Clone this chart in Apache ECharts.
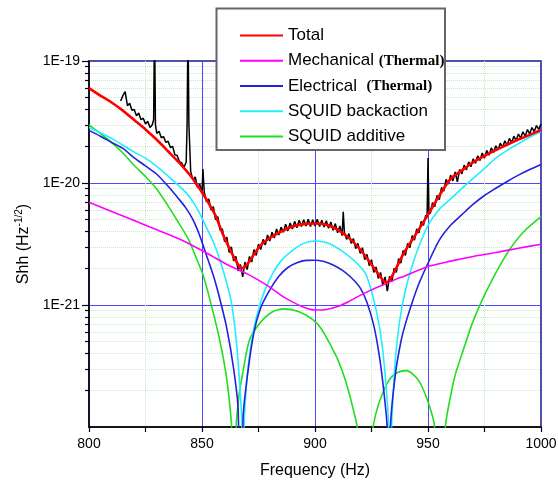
<!DOCTYPE html>
<html>
<head>
<meta charset="utf-8">
<script src="https://cdn.jsdelivr.net/npm/echarts@6/dist/echarts.min.js"></script>
<style>html,body{margin:0;padding:0;background:#fff}#c{width:558px;height:486px}</style>
</head>
<body>
<div id="c"></div>
<script>
// All amplitude values below are in units of 1e-21 Hz^-1/2
var UNIT = 1e-21;

var seriesNames = ['Total', 'Mechanical', 'Electrical', 'SQUID backaction', 'SQUID additive'];
var xTickLabels = ['800', '850', '900', '950', '1000'];
var yTickLabels = ['1E-22', '1E-21', '1E-20', '1E-19'];
var yMinorTicks = [2e-22,3e-22,4e-22,5e-22,6e-22,7e-22,8e-22,9e-22,
                   2e-21,3e-21,4e-21,5e-21,6e-21,7e-21,8e-21,9e-21,
                   2e-20,3e-20,4e-20,5e-20,6e-20,7e-20,8e-20,9e-20];

// measured spectrum (black): [frequency Hz, amplitude]
var measured = [
  [814,47],[815,52],[816,56],[817,43],[818,45],[819,39.5],[820,40],[821,35.5],[822,37.5],[823,33],[824,34],[825,30.5],[826,32],[827,28.5],[828,30],
  [828.6,33],[829,200],[829.4,30],
  [830,25.5],[831,26.5],[832,23.5],[833,24],[834,21.5],[835,22],[836,19.5],[837,20],[838,17],[839,16.8],[840,15],[841,14.6],[842,13.5],[843,14.8],
  [843.4,30],[843.8,200],[844.2,30],
  [845,12.4],[846,10.6],[847,11.2],[848,9.2],[849,9.8],[850,8.2],[850.4,13],[851,8.4],[852,7.0],[853,7.4],[854,6.0],[855,6.4],[856,5.0],[857,5.3],[858,4.1],[859,4.2],
  [860,3.3],[861,3.6],[862,2.7],[863,3.0],[864,2.3],[865,2.5],[866,1.9],[867,2.15],[868,1.7],[869,2.25],[870,1.95],[871,2.5],[872,2.25],[873,2.85],[874,2.55],[875,3.15],
  [876,2.85],[877,3.45],[878,3.1],[879,3.75],[880,3.35],[881,3.95],[882,3.55],[883,4.2],[884,3.75],[885,4.35],[886,3.95],[887,4.6],[888,4.05],[889,4.7],[890,4.2],
  [891,4.85],[892,4.3],[893,4.95],[894,4.4],[895,5.0],[896,4.45],[897,5.05],[898,4.4],[899,5.0],[900,4.45],[901,5.05],[902,4.4],[903,4.95],[904,4.35],[905,4.9],
  [906,4.25],[907,4.8],[908,4.1],[909,4.65],[910,3.9],[911,4.45],[912,3.7],[912.5,5.8],[913,3.95],[914,3.45],[915,3.85],[916,3.2],[917,3.5],[918,2.9],[919,3.2],
  [920,2.65],[921,2.95],[922,2.35],[923,2.6],[924,2.1],[925,2.35],[926,1.85],[927,2.05],[928,1.65],[929,1.85],[930,1.45],[931,1.7],[932,1.3],[933,1.72],[934,1.55],
  [935,2.0],[936,1.85],[937,2.4],[938,2.2],[939,2.8],[940,2.55],[941,3.2],[942,2.95],[943,3.7],[944,3.4],[945,4.2],[946,3.9],[947,4.85],[948,4.5],[949,5.45],
  [949.6,5.2],[950,16],[950.4,6.0],
  [951,5.6],[952,6.9],[953,6.4],[954,7.9],[955,7.3],[956,9.2],[957,8.6],[958,10.7],[959,9.8],[960,11.6],[961,10.4],[962,12.3],[963,10.2],[964,12.9],[965,11.9],
  [966,14.0],[967,12.8],[968,14.9],[969,13.6],[970,15.8],[971,14.5],[972,16.7],[973,15.3],[974,17.6],[975,16.0],[976,18.5],[977,16.9],[978,19.4],[979,17.8],[980,20.2],
  [981,18.7],[982,21.2],[983,19.5],[984,22.2],[985,20.4],[986,23.2],[987,21.4],[988,24.2],[989,22.3],[990,25.2],[991,23.3],[992,26.3],[993,24.2],[994,27.4],[995,25.3],
  [996,28.5],[997,26.4],[998,29.6],[999,27.5],[1000,30.5]
];

// Total (red)
var totalFreq = [800,805,810,815,820,825,830,835,840,845,848,850,853,856,859,862,865,867.5,870,873,876,880,885,890,895,900,905,910,915,920,925,928,930,931.5,933,935,937.5,940,945,950,955,960,965,970,975,980,985,990,995,1000];
var totalVal = [60,52.1,45.7,39.2,32.8,27.5,22.6,18.2,14.6,11.4,9.5,8.4,6.8,5.4,3.9,2.95,2.3,2.0,2.15,2.6,3.1,3.55,4.0,4.4,4.6,4.65,4.55,4.15,3.55,2.85,2.15,1.8,1.6,1.53,1.6,1.85,2.3,2.8,3.9,5.5,7.9,10.8,12.7,14.8,16.7,18.6,20.6,22.7,24.8,27.2];

// Mechanical (Thermal) (magenta)
var mechFreq = [800,810,820,830,840,850,855,860,865,870,875,880,885,890,895,900,905,910,915,920,925,930,935,940,950,960,970,980,990,1000];
var mechVal = [6.95,5.85,4.92,4.14,3.48,2.8,2.48,2.2,1.98,1.8,1.6,1.4,1.2,1.06,0.96,0.91,0.92,0.97,1.07,1.2,1.33,1.46,1.6,1.74,2.07,2.29,2.5,2.69,2.92,3.15];

// Electrical (Thermal) (blue)
var elecFreq = [800,805,810,815,820,825,830,835,840,843,846,849,852,855,858,861,864,866,867.3,868.2,870.2,873,876,880,884,888,892,896,900,904,908,912,916,920,923,926,928.5,930.4,931.9,932.7,933.4,935.6,938,940,943,946,950,955,960,965,970,975,980,985,990,995,1000];
var elecVal = [27,24.2,21.5,19.2,16.1,13.8,11.8,9.4,7.3,6.2,5.0,3.7,2.55,1.75,1.1,0.64,0.3,0.14,0.003,0.12,0.274,0.6,0.95,1.33,1.72,2.03,2.22,2.32,2.33,2.27,2.13,1.93,1.68,1.38,1.05,0.68,0.38,0.2,0.1,0.003,0.1,0.274,0.5,0.7,1.05,1.5,2.2,3.4,4.5,5.5,6.7,7.9,9.05,10.3,11.6,12.9,14.2];

// SQUID backaction (cyan)
var backFreq = [800,805,810,815,820,825,830,835,840,843,846,849,852,855,858,861,863,865,866.5,867.7,868.15,868.6,869.5,870.9,873,875.3,878,881.2,885,890,895,900,905,909,913.5,918,922.4,925.5,928.3,930,931.6,932.6,933.2,933.9,934.8,935.6,937.5,940,943,945.9,950,955,960,965,970,975,980,985,990,995,1000];
var backVal = [28.5,25.8,23.2,20.4,17.9,16.0,13.7,11.4,9.4,8.3,7.0,5.6,4.3,3.3,2.3,1.5,1.05,0.55,0.25,0.1,0.003,0.1,0.2,0.37,0.65,0.96,1.35,1.8,2.3,2.8,3.2,3.35,3.25,3.0,2.64,2.25,1.8,1.2,0.7,0.42,0.2,0.1,0.003,0.1,0.22,0.37,0.75,1.32,2.1,3.0,4.5,6.1,7.4,9.05,10.9,13.2,16,18.5,21,23.7,26.4];

// SQUID additive (green)
var addFreq = [800,805,810,815,820,825,830,835,840,844,847,850.3,853,856.2,858.5,860.6,862,863.1,864.1,865.1,866.5,868,870.9,875.3,881.2,886.4,893,899.3,903,906.6,910,913.5,916.5,918.7,920.5,922.4,924.2,925.7,928.2,932.6,936.5,940.5,945.9,950.3,952.9,955.4,957.7,960,962.2,966,969.5,974,978.3,983,987.2,993,1000];
var addVal = [30,25.5,21.5,17.6,13.9,11.3,8.9,6.5,4.6,3.45,2.55,1.8,1.2,0.7,0.45,0.274,0.17,0.1,0.003,0.1,0.19,0.274,0.51,0.7,0.88,0.93,0.88,0.75,0.63,0.48,0.36,0.24,0.15,0.1,0.05,0.002,0.05,0.1,0.155,0.24,0.28,0.29,0.24,0.155,0.1,0.002,0.1,0.18,0.274,0.45,0.7,1.1,1.6,2.3,3.05,4.1,5.3];

function pairs(fr, vals) {
  return fr.map(function (f, i) { return [f, vals[i] * UNIT]; });
}

var FONT = '"Liberation Sans", Arial, sans-serif';
var GRIDBLUE = '#4848ff';
var MINORGREEN = '#c4ecc4';

function modelSeries(name, fr, vals, color, width, z) {
  return {
    name: name, type: 'line', data: pairs(fr, vals), symbol: 'none', showSymbol: false, smooth: 0.25,
    lineStyle: { color: color, width: width }, itemStyle: { color: color },
    xAxisIndex: 0, yAxisIndex: 0, z: z, clip: true
  };
}

var chart = echarts.init(document.getElementById('c'), null, { renderer: 'canvas' });
chart.setOption({
  animation: false,
  backgroundColor: '#fff',
  grid: { left: 89, right: 17, top: 61, bottom: 59, containLabel: false, outerBoundsMode: 'none', z: 0,
          show: true, borderColor: '#222', borderWidth: 1.5, backgroundColor: 'transparent' },
  xAxis: [{
    type: 'value', min: 800, max: 1000, interval: 50, position: 'bottom', z: 3,
    name: 'Frequency (Hz)', nameLocation: 'middle', nameGap: 36, nameMoveOverlap: false,
    nameTextStyle: { fontFamily: FONT, fontSize: 16, color: '#000' },
    axisLine: { show: true, onZero: false, lineStyle: { color: '#000', width: 1.5 } },
    axisTick: { show: true, length: 5, lineStyle: { color: '#000', width: 1.2 } },
    minorTick: { show: true, splitNumber: 2, length: 5, lineStyle: { color: '#000', width: 1.2 } },
    axisLabel: { fontFamily: FONT, fontSize: 14, color: '#000', margin: 10,
      formatter: function (v, i) { return xTickLabels[i]; } },
    splitLine: { show: true, lineStyle: { color: GRIDBLUE, width: 1 } },
    minorSplitLine: { show: true, lineStyle: { color: MINORGREEN, width: 1, type: 'dotted' } }
  }],
  yAxis: [{
    type: 'log', logBase: 10, min: 1e-22, max: 1e-19, position: 'left', z: 3,
    name: '{a|Shh (Hz}{s|-1/2}{a|)}', nameLocation: 'middle', nameGap: 56, nameMoveOverlap: false,
    nameTextStyle: { fontFamily: FONT, fontSize: 16, color: '#000',
      rich: { a: { fontFamily: FONT, fontSize: 16, color: '#000' },
              s: { fontFamily: FONT, fontSize: 10, color: '#000', padding: [0, 0, 9, 0] } } },
    axisLine: { show: true, onZero: false, lineStyle: { color: '#000', width: 1.5 } },
    axisTick: { show: true, length: 7, lineStyle: { color: '#000', width: 1.2 } },
    axisLabel: { fontFamily: FONT, fontSize: 14, color: '#000', margin: 9,
      formatter: function (v, i) { return yTickLabels[i]; } },
    splitLine: { show: true, lineStyle: { color: GRIDBLUE, width: 1 } }
  }, {
    type: 'log', logBase: 10, min: 1e-22, max: 1e-19, position: 'left', z: 1,
    axisLine: { show: false, onZero: false },
    axisTick: { show: true, length: 4, customValues: yMinorTicks, lineStyle: { color: '#000', width: 1.2 } },
    axisLabel: { show: false },
    splitLine: { show: true, lineStyle: { color: MINORGREEN, width: 1, type: 'dotted' } }
  }],
  legend: {
    data: seriesNames, orient: 'vertical', left: 217, top: 8,
    padding: [19, 10, 20, 22], itemWidth: 43, itemHeight: 14, itemGap: 8.25,
    selectedMode: false, z: 30,
    itemStyle: { opacity: 0 },
    textStyle: { fontFamily: FONT, fontSize: 17, color: '#000',
      rich: { t: { fontFamily: '"Liberation Serif", "Times New Roman", serif', fontWeight: 'bold', fontSize: 15, color: '#000' } } },
    formatter: function (name) {
      if (name === 'Mechanical') return 'Mechanical {t|(Thermal)}';
      if (name === 'Electrical') return 'Electrical  {t|(Thermal)}';
      return name;
    }
  },
  graphic: [{
    type: 'rect', z: 20,
    shape: { x: 216.5, y: 8.5, width: 228.5, height: 141.5 },
    style: { fill: '#fff', stroke: '#666', lineWidth: 2 }
  }],
  series: [
    { name: 'Measured', type: 'line', data: measured.map(function (p) { return [p[0], p[1] * UNIT]; }), symbol: 'none',
      lineStyle: { color: '#000', width: 1.5 }, itemStyle: { color: '#000' }, z: 5, clip: true },
    modelSeries('SQUID additive', addFreq, addVal, '#22dd22', 1.6, 6),
    modelSeries('SQUID backaction', backFreq, backVal, '#22eeff', 1.6, 6),
    modelSeries('Electrical', elecFreq, elecVal, '#2222dd', 1.6, 6),
    modelSeries('Mechanical', mechFreq, mechVal, '#ff00ff', 1.6, 6),
    modelSeries('Total', totalFreq, totalVal, '#ff0000', 2.6, 7)
  ]
});
</script>
</body>
</html>
